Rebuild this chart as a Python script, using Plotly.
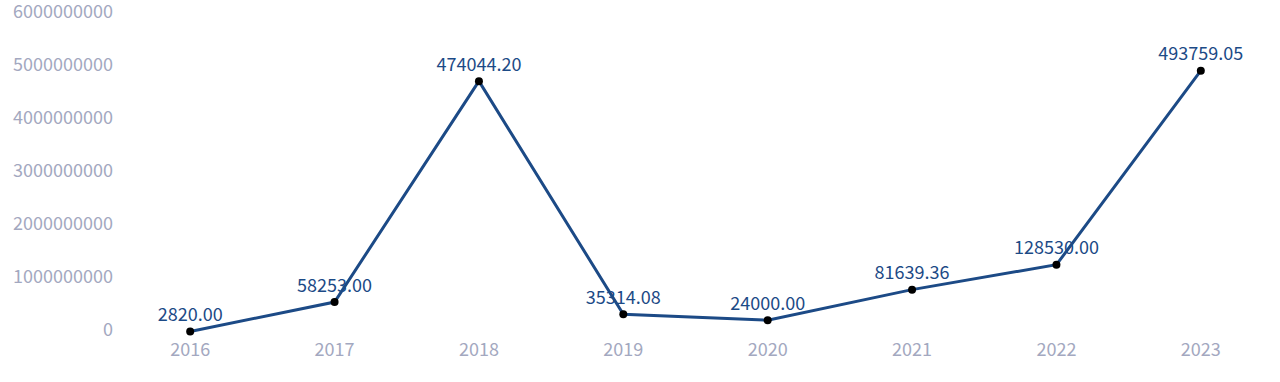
import plotly.graph_objects as go

years = ["2016", "2017", "2018", "2019", "2020", "2021", "2022", "2023"]
label_values = [2820.00, 58253.00, 474044.20, 35314.08, 24000.00, 81639.36, 128530.00, 493759.05]
values = [v * 10000 for v in label_values]
y_ticks = [0, 1000000000, 2000000000, 3000000000, 4000000000, 5000000000, 6000000000]

font_family = "Noto Sans CJK SC, Noto Sans, sans-serif"

fig = go.Figure()
fig.add_trace(go.Scatter(
    x=years, y=values,
    mode="lines+markers+text",
    line=dict(color="#1c4a86", width=3),
    marker=dict(color="#000000", size=8),
    text=[f"{v:.2f}" for v in label_values],
    textposition="top center",
    textfont=dict(family=font_family, size=18, color="#1c4a86"),
    cliponaxis=False,
    hoverinfo="skip",
))

fig.update_layout(
    width=1280, height=382,
    margin=dict(l=118, r=7, t=10, b=49, autoexpand=False),
    paper_bgcolor="white", plot_bgcolor="white",
    showlegend=False,
    font=dict(family=font_family),
)
fig.update_xaxes(
    type="category", range=[-0.5, 7.5],
    showgrid=False, showline=False, zeroline=False, ticks="",
    tickfont=dict(family=font_family, size=18, color="#a3a8c0"),
    ticklabelstandoff=4, automargin=False,
)
fig.update_yaxes(
    range=[0, 6080000000], tickvals=y_ticks,
    ticktext=[str(v) for v in y_ticks],
    showgrid=False, showline=False, zeroline=False, ticks="",
    tickfont=dict(family=font_family, size=18, color="#a3a8c0"),
    ticklabelstandoff=4, ticklabelshift=-3, ticklabeloverflow="allow",
    automargin=False,
)

fig.write_html(
    "out.html",
    config={"displayModeBar": False},
    post_script="document.body.style.margin='0';document.body.style.overflow='hidden';",
)
